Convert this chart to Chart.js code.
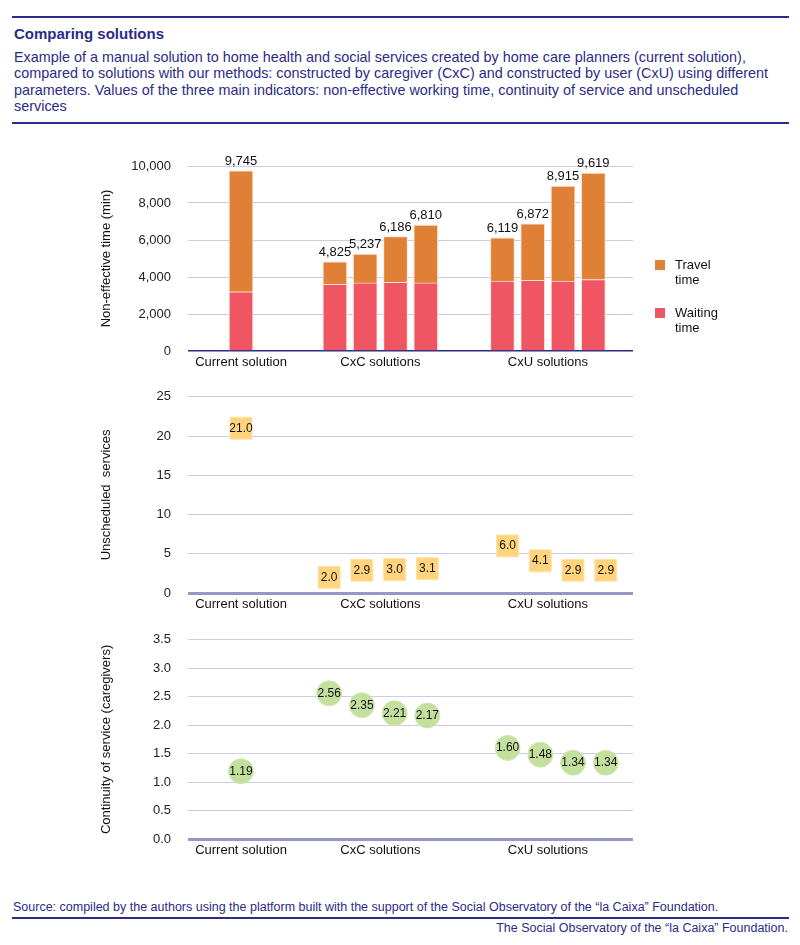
<!DOCTYPE html>
<html>
<head>
<meta charset="utf-8">
<script src="https://cdn.jsdelivr.net/npm/chart.js@4.4.0/dist/chart.umd.min.js"></script>
<style>
  body { margin: 0; width: 800px; height: 945px; position: relative; background: #fff; overflow: hidden;
         font-family: "Liberation Sans", Arial, sans-serif; color: #2b2b88; }
  .rule { position: absolute; left: 12px; width: 777px; height: 2px; background: #2b2b88; }
  .title { position: absolute; left: 14px; top: 25px; font-size: 15px; line-height: 18px; font-weight: bold; }
  .desc { position: absolute; left: 14px; top: 49px; font-size: 14.4px; line-height: 16.3px; white-space: nowrap; }
  .src { position: absolute; left: 13px; top: 900px; font-size: 12.5px; line-height: 15px; white-space: nowrap; }
  .own { position: absolute; right: 12px; top: 921px; font-size: 12.5px; line-height: 15px; white-space: nowrap; }
  canvas { position: absolute; left: 0; }
  .sw { position: absolute; left: 655px; width: 10px; height: 10px; }
  .lt { position: absolute; left: 675px; font-size: 13px; line-height: 15px; color: #111; }
</style>
</head>
<body>
<div class="rule" style="top:16px"></div>
<div class="title">Comparing solutions</div>
<div class="desc">Example of a manual solution to home health and social services created by home care planners (current solution),<br>compared to solutions with our methods: constructed by caregiver (CxC) and constructed by user (CxU) using different<br>parameters. Values of the three main indicators: non-effective working time, continuity of service and unscheduled<br>services</div>
<div class="rule" style="top:122px"></div>

<canvas id="c1" width="800" height="240" style="top:140px"></canvas>
<canvas id="c2" width="800" height="250" style="top:372px"></canvas>
<canvas id="c3" width="800" height="253" style="top:615px"></canvas>

<div class="sw" id="sw1" style="top:260px"></div>
<div class="lt" style="top:257px">Travel<br>time</div>
<div class="sw" id="sw2" style="top:308px"></div>
<div class="lt" style="top:305px">Waiting<br>time</div>

<div class="src">Source: compiled by the authors using the platform built with the support of the Social Observatory of the “la Caixa” Foundation.</div>
<div class="rule" style="top:917px"></div>
<div class="own">The Social Observatory of the “la Caixa” Foundation.</div>

<script>
// data
const groups = ["Current solution", "CxC solutions", "CxU solutions"];
const groupOf = [0, 1, 1, 1, 1, 2, 2, 2, 2];
const totalTime = [9745, 4825, 5237, 6186, 6810, 6119, 6872, 8915, 9619];
const waitingTime = [3200, 3600, 3680, 3710, 3680, 3780, 3820, 3780, 3860];
const unscheduled = [21.0, 2.0, 2.9, 3.0, 3.1, 6.0, 4.1, 2.9, 2.9];
const continuity = [1.19, 2.56, 2.35, 2.21, 2.17, 1.60, 1.48, 1.34, 1.34];
const timeTicks = [0, 2000, 4000, 6000, 8000, 10000];
const unschedTicks = [0, 5, 10, 15, 20, 25];
const contTicks = [0, 0.5, 1, 1.5, 2, 2.5, 3, 3.5];

const travelTime = totalTime.map((t, i) => t - waitingTime[i]);

// colours
const orange = "#e07f36";
const red = "#f05564";
const yellow = "#ffd47c";
const green = "#c4e09e";
const gridCol = "#cdcbe5";

document.getElementById("sw1").style.background = orange;
document.getElementById("sw2").style.background = red;

// layout along the x axis (axis units)
const groupPos = [0, 4.6, 10.13];
const dotGroupPos = [0, 4.53, 10.42];

function xPos(i, centers, step) {
  let g = groupOf[i];
  let n = groupOf.filter(v => v === g).length;
  let k = groupOf.slice(0, i).filter(v => v === g).length;
  return centers[g] + (k - (n - 1) / 2) * step;
}

Chart.defaults.font.family = '"Liberation Sans", Arial, sans-serif';
Chart.defaults.font.size = 13;

function xScale() {
  return {
    type: "linear",
    min: -1.75,
    max: 12.94,
    offset: false,
    stacked: true,
    grid: { display: false, drawTicks: false },
    border: { display: false },
    afterBuildTicks: s => { s.ticks = groupPos.map(v => ({ value: v })); },
    afterFit: s => { s.height = 29; },
    ticks: {
      autoSkip: false, maxRotation: 0, padding: 4, color: "#111",
      callback: (v, i) => groups[i],
    },
  };
}

function yScale(ticks, title, axisColor, axisWidth, fmt) {
  return {
    min: ticks[0],
    max: ticks[ticks.length - 1],
    stacked: true,
    afterBuildTicks: s => { s.ticks = ticks.map(v => ({ value: v })); },
    afterFit: s => { s.width = 93; },
    border: { display: false },
    grid: {
      drawTicks: false,
      color: c => (c.tick && c.tick.value === 0 ? axisColor : gridCol),
      lineWidth: c => (c.tick && c.tick.value === 0 ? axisWidth : 1),
    },
    ticks: { padding: 17, color: "#222", callback: fmt },
    title: { display: true, text: title, color: "#111", padding: { top: 4, bottom: 0 } },
  };
}

const valueLabels = {
  id: "valueLabels",
  afterDatasetsDraw(chart, args, opts) {
    let ctx = chart.ctx;
    let meta = chart.getDatasetMeta(opts.dataset);
    ctx.save();
    ctx.font = opts.font;
    ctx.fillStyle = "#111";
    ctx.textAlign = "center";
    ctx.textBaseline = opts.baseline;
    meta.data.forEach((el, i) => {
      ctx.fillText(opts.texts[i], el.x, el.y + opts.dy);
    });
    ctx.restore();
  },
};

const common = {
  responsive: false,
  animation: false,
  events: [],
};

// panel 1: stacked bars
new Chart(document.getElementById("c1"), {
  type: "bar",
  data: {
    datasets: [
      {
        label: "Waiting time",
        data: waitingTime.map((v, i) => ({ x: xPos(i, groupPos, 1), y: v })),
        backgroundColor: red,
        borderColor: "rgba(255,225,215,0.9)",
        borderWidth: 1,
        barThickness: 24,
      },
      {
        label: "Travel time",
        data: travelTime.map((v, i) => ({ x: xPos(i, groupPos, 1), y: v })),
        backgroundColor: orange,
        borderColor: "rgba(255,225,205,0.9)",
        borderWidth: 1,
        barThickness: 24,
      },
    ],
  },
  options: {
    ...common,
    layout: { padding: { top: 26, left: 95, right: 167, bottom: 0 } },
    scales: {
      x: xScale(),
      y: yScale(timeTicks, "Non-effective time (min)", "#2d2b7e", 1.5, v => v.toLocaleString("en-US")),
    },
    plugins: {
      legend: { display: false },
      tooltip: { enabled: false },
      valueLabels: {
        dataset: 1, font: '13px "Liberation Sans", Arial, sans-serif', baseline: "alphabetic", dy: -6,
        texts: totalTime.map(v => v.toLocaleString("en-US")),
      },
    },
  },
  plugins: [valueLabels],
});

// panel 2: unscheduled services
new Chart(document.getElementById("c2"), {
  type: "scatter",
  data: {
    datasets: [
      {
        data: unscheduled.map((v, i) => ({ x: xPos(i, dotGroupPos, 1.08), y: v })),
        pointStyle: "rect",
        pointRadius: 15.5,
        backgroundColor: yellow,
        borderColor: "#ffe3a8",
        borderWidth: 1,
        clip: false,
      },
    ],
  },
  options: {
    ...common,
    layout: { padding: { top: 11, left: 95, right: 167, bottom: 0 } },
    scales: {
      x: xScale(),
      y: yScale(unschedTicks, "Unscheduled  services", "#9797c6", 3, v => v),
    },
    plugins: {
      legend: { display: false },
      tooltip: { enabled: false },
      valueLabels: {
        dataset: 0, font: '12px "Liberation Sans", Arial, sans-serif', baseline: "middle", dy: 0,
        texts: unscheduled.map(v => v.toFixed(1)),
      },
    },
  },
  plugins: [valueLabels],
});

// panel 3: continuity of service
new Chart(document.getElementById("c3"), {
  type: "scatter",
  data: {
    datasets: [
      {
        data: continuity.map((v, i) => ({ x: xPos(i, dotGroupPos, 1.08), y: v })),
        pointStyle: "circle",
        pointRadius: 12.5,
        backgroundColor: green,
        borderColor: "#d0e8b0",
        borderWidth: 1,
        clip: false,
      },
    ],
  },
  options: {
    ...common,
    layout: { padding: { top: 13, left: 95, right: 167, bottom: 0 } },
    scales: {
      x: xScale(),
      y: yScale(contTicks, "Continuity of service (caregivers)", "#9797c6", 3, v => v.toFixed(1)),
    },
    plugins: {
      legend: { display: false },
      tooltip: { enabled: false },
      valueLabels: {
        dataset: 0, font: '12px "Liberation Sans", Arial, sans-serif', baseline: "middle", dy: 0,
        texts: continuity.map(v => v.toFixed(2)),
      },
    },
  },
  plugins: [valueLabels],
});
</script>
</body>
</html>
